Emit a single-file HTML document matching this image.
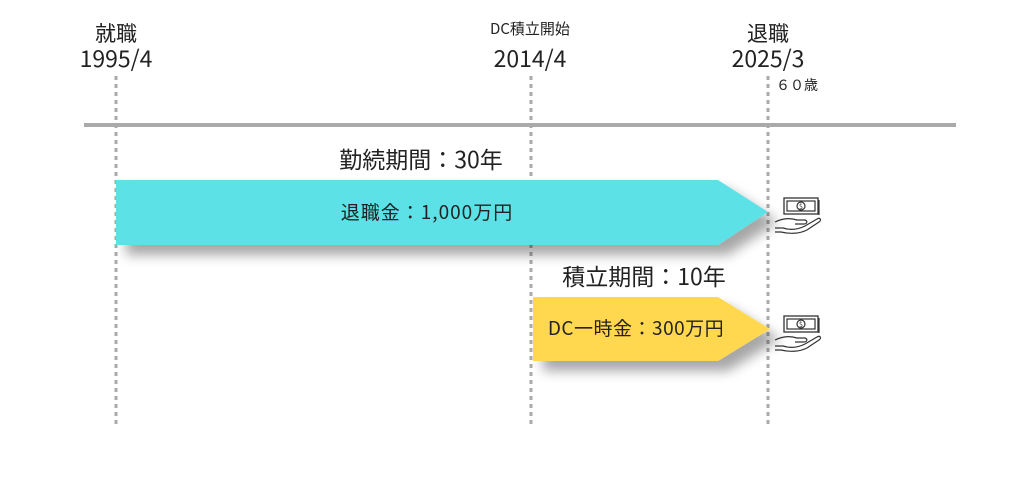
<!DOCTYPE html>
<html><head><meta charset="utf-8"><style>
body{margin:0;background:#fff;}
svg text{font-family:"Noto Sans CJK JP","Liberation Sans",sans-serif;fill:#222;}
</style></head><body>
<svg width="1024" height="476" viewBox="0 0 1024 476" xmlns="http://www.w3.org/2000/svg">
<defs>
<filter id="sh" x="-10%" y="-30%" width="120%" height="180%">
<feGaussianBlur in="SourceAlpha" stdDeviation="6"/>
<feOffset dx="10" dy="10"/>
<feComponentTransfer><feFuncA type="linear" slope="0.35"/></feComponentTransfer>
<feMerge><feMergeNode/><feMergeNode in="SourceGraphic"/></feMerge>
</filter>
<g id="money">
<rect x="9" y="0" width="34" height="16" fill="#fff" stroke="#333" stroke-width="1.3"/>
<rect x="12" y="3" width="28" height="10" fill="none" stroke="#333" stroke-width="1.2"/>
<circle cx="26" cy="8" r="4" fill="none" stroke="#333" stroke-width="1.2"/>
<text x="26" y="11" font-size="7" text-anchor="middle">$</text>
<line x1="44" y1="2" x2="44" y2="17" stroke="#333" stroke-width="1.2"/>
<path d="M0 24 C8 20 16 20 22 22 L30 22 C33 23 32 26 29 26 L20 26 M0 30 L8 30 C14 32 22 32 30 28 L42 21 C45 19 47 22 44 24 L32 32 C24 36 14 36 6 34 L0 34" fill="none" stroke="#333" stroke-width="1.2"/>
</g>
</defs>
<g stroke="#aaa" stroke-width="3" stroke-dasharray="4 4">
<line x1="116" y1="76" x2="116" y2="428"/>
<line x1="531" y1="76" x2="531" y2="428"/>
<line x1="768" y1="76" x2="768" y2="428"/>
</g>
<line x1="84" y1="125" x2="956" y2="125" stroke="#aaa" stroke-width="4"/>
<polygon points="116,180 718,180 768,212 718,245 116,245" fill="#5ce1e6" filter="url(#sh)"/>
<polygon points="533,297 718,297 770,329 718,361 533,361" fill="#ffd84f" filter="url(#sh)"/>
<text x="116" y="41" font-size="21" text-anchor="middle">就職</text>
<text x="116" y="67" font-size="23" text-anchor="middle">1995/4</text>
<text x="530" y="34" font-size="15" text-anchor="middle">DC積立開始</text>
<text x="530" y="67" font-size="23" text-anchor="middle">2014/4</text>
<text x="768" y="41" font-size="21" text-anchor="middle">退職</text>
<text x="768" y="67" font-size="23" text-anchor="middle">2025/3</text>
<text x="776" y="90" font-size="14">６０歳</text>
<text x="421" y="168" font-size="23" text-anchor="middle">勤続期間：30年</text>
<text x="427" y="219" font-size="19" text-anchor="middle" letter-spacing="1">退職金：1,000万円</text>
<text x="644" y="285" font-size="23" text-anchor="middle">積立期間：10年</text>
<text x="636" y="335" font-size="19" text-anchor="middle" letter-spacing="0.5">DC一時金：300万円</text>
<use href="#money" x="775" y="198"/>
<use href="#money" x="775" y="316"/>
</svg>
</body></html>
